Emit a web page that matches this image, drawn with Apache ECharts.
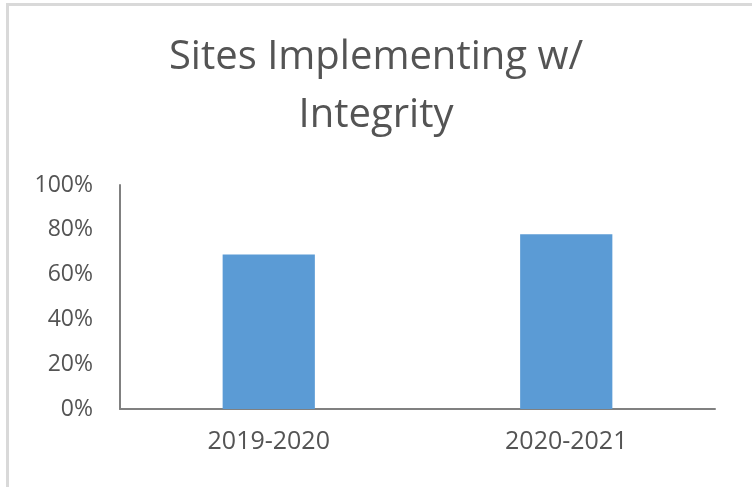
<!DOCTYPE html>
<html>
<head>
<meta charset="utf-8">
<script src="https://cdn.jsdelivr.net/npm/echarts@6/dist/echarts.min.js"></script>
<style>
  html, body { margin: 0; padding: 0; background: #fff; }
  #chart { width: 752px; height: 487px; }
  .frame {
    position: absolute; left: 6px; top: 3px; width: 760px; height: 482px;
    border-left: 3px solid #d9d9d9; border-top: 3px solid #d9d9d9;
    pointer-events: none;
  }
</style>
</head>
<body>
<div id="chart"></div>
<div class="frame"></div>
<script>
// data
const categories = ["2019-2020", "2020-2021"];
const values = [69, 78];
const yTicks = [0, 20, 40, 60, 80, 100];

const chart = echarts.init(document.getElementById("chart"));

chart.setOption({
  animation: false,
  title: {
    text: "Sites Implementing w/\nIntegrity",
    left: "center",
    top: 24,
    textStyle: {
      fontFamily: "Open Sans",
      fontSize: 40,
      fontWeight: "normal",
      color: "#545454",
      lineHeight: 58,
    },
  },
  grid: {
    left: 120,
    right: 37,
    top: 185,
    bottom: 78,
  },
  xAxis: {
    type: "category",
    data: categories,
    axisLine: { lineStyle: { color: "#808080", width: 2 } },
    axisTick: { show: false },
    axisLabel: {
      fontFamily: "Open Sans",
      fontSize: 25,
      color: "#545454",
      margin: 20,
    },
  },
  yAxis: {
    type: "value",
    min: yTicks[0],
    max: yTicks[yTicks.length - 1],
    interval: 20,
    splitLine: { show: false },
    axisLine: { show: true, lineStyle: { color: "#808080", width: 2 } },
    axisTick: { show: false },
    axisLabel: {
      fontFamily: "Open Sans",
      fontSize: 23,
      color: "#545454",
      margin: 27,
      formatter: "{value}%",
    },
  },
  series: [
    {
      type: "bar",
      data: values,
      barWidth: "31%",
      itemStyle: { color: "#5b9bd5" },
    },
  ],
});
</script>
</body>
</html>
